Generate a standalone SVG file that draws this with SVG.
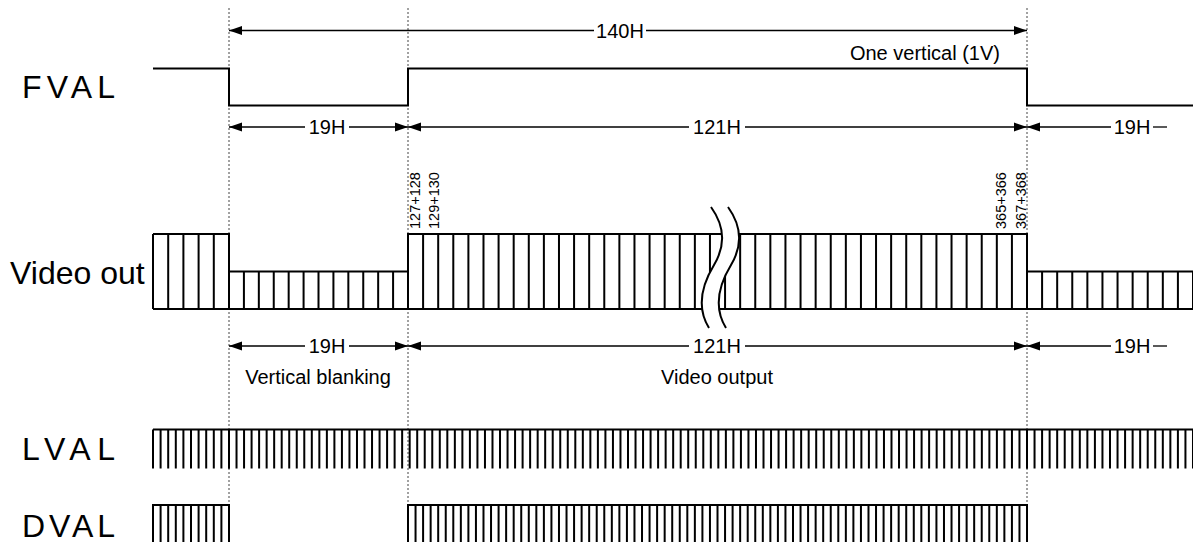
<svg xmlns="http://www.w3.org/2000/svg" width="1193" height="542" viewBox="0 0 1193 542">
<style>
.sig{fill:none;stroke:#000;stroke-width:2}
.dim{fill:none;stroke:#000;stroke-width:1.3}
.guide{fill:none;stroke:#444;stroke-width:1;stroke-dasharray:2 2}
.big{font-family:"Liberation Sans",Arial,sans-serif;font-size:32px;fill:#000}
.lbl{font-family:"Liberation Sans",Arial,sans-serif;font-size:20px;fill:#000}
.vlbl{font-family:"Liberation Sans",Arial,sans-serif;font-size:14.5px;fill:#000}
.mid{text-anchor:middle}
</style>
<defs>
<marker id="ah" markerUnits="userSpaceOnUse" markerWidth="14" markerHeight="10" refX="13" refY="4.5" orient="auto-start-reverse" viewBox="0 0 14 9">
<path d="M0,0 L13,4.5 L0,9 Z" fill="#000"/>
</marker>
</defs>
<rect width="1193" height="542" fill="#fff"/>

<g id="guides">
<line class="guide" x1="229" y1="8" x2="229" y2="542"/>
<line class="guide" x1="408" y1="8" x2="408" y2="542"/>
<line class="guide" x1="1027" y1="8" x2="1027" y2="542"/>
</g>

<g id="labels">
<text class="big" x="22" y="97.5" textLength="93" lengthAdjust="spacing">FVAL</text>
<text class="big" x="10" y="283.5">Video out</text>
<text class="big" x="22" y="459.5" textLength="93" lengthAdjust="spacing">LVAL</text>
<text class="big" x="22" y="536.5" textLength="93" lengthAdjust="spacing">DVAL</text>
</g>

<g id="fval">
<path class="sig" d="M153,68.5 H229 V105.5 H408 V68.5 H1027 V105.5 H1193"/>
</g>

<g id="video-out">
<path class="sig" d="M153,309 H1193 M153,234 H229 V309 M229,271.5 H408 M408,309 V234 H1027 V309 M1027,271.5 H1193 M153,234 V309"/>
<line x1="152" y1="271.5" x2="230" y2="271.5" stroke="#000" stroke-width="75" stroke-dasharray="2 13.2"/>
<line x1="228" y1="290.25" x2="410" y2="290.25" stroke="#000" stroke-width="37.5" stroke-dasharray="2 12.917"/>
<line x1="407" y1="271.5" x2="1028" y2="271.5" stroke="#000" stroke-width="75" stroke-dasharray="2 13.098"/>
<line x1="1026" y1="290.25" x2="1194" y2="290.25" stroke="#000" stroke-width="37.5" stroke-dasharray="2 13.091"/>
<path d="M711,207 C724,225 726,245 714,265 C700,288 698,310 709,328 L726,328 C715,310 717,288 731,265 C743,245 741,225 728,207 Z" fill="#fff"/>
<path class="sig" d="M711,207 C724,225 726,245 714,265 C700,288 698,310 709,328"/>
<path class="sig" d="M728,207 C741,225 743,245 731,265 C717,288 715,310 726,328"/>
<text class="vlbl" transform="translate(419.5,229) rotate(-90)">127+128</text>
<text class="vlbl" transform="translate(439,229) rotate(-90)">129+130</text>
<text class="vlbl" transform="translate(1006,229) rotate(-90)">365+366</text>
<text class="vlbl" transform="translate(1026,229) rotate(-90)">367+368</text>
</g>

<g id="lval">
<line class="sig" x1="153" y1="429.5" x2="1193" y2="429.5"/>
<line x1="152" y1="449" x2="230" y2="449" stroke="#000" stroke-width="39" stroke-dasharray="2 5.6"/>
<line x1="228" y1="449" x2="1028" y2="449" stroke="#000" stroke-width="39" stroke-dasharray="2 5.5283"/>
<line x1="1026" y1="449" x2="1194" y2="449" stroke="#000" stroke-width="39" stroke-dasharray="2 5.545"/>
</g>

<g id="dval">
<path class="sig" d="M153,505 H229 M408,505 H1027"/>
<line x1="152" y1="525" x2="230" y2="525" stroke="#000" stroke-width="42" stroke-dasharray="2 5.6"/>
<line x1="407" y1="525" x2="1028" y2="525" stroke="#000" stroke-width="42" stroke-dasharray="2 5.549"/>
</g>

<g id="connectors">
<line class="dim" x1="229" y1="30.5" x2="594" y2="30.5" marker-start="url(#ah)"/>
<line class="dim" x1="646" y1="30.5" x2="1027" y2="30.5" marker-end="url(#ah)"/>
<line class="dim" x1="229" y1="127" x2="305" y2="127" marker-start="url(#ah)"/>
<line class="dim" x1="349" y1="127" x2="408" y2="127" marker-end="url(#ah)"/>
<line class="dim" x1="408" y1="127" x2="689" y2="127" marker-start="url(#ah)"/>
<line class="dim" x1="745" y1="127" x2="1027" y2="127" marker-end="url(#ah)"/>
<line class="dim" x1="1027" y1="127" x2="1111" y2="127" marker-start="url(#ah)"/>
<line class="dim" x1="1153" y1="127" x2="1167" y2="127"/>
<line class="dim" x1="229" y1="346" x2="305" y2="346" marker-start="url(#ah)"/>
<line class="dim" x1="349" y1="346" x2="408" y2="346" marker-end="url(#ah)"/>
<line class="dim" x1="408" y1="346" x2="689" y2="346" marker-start="url(#ah)"/>
<line class="dim" x1="745" y1="346" x2="1027" y2="346" marker-end="url(#ah)"/>
<line class="dim" x1="1027" y1="346" x2="1111" y2="346" marker-start="url(#ah)"/>
<line class="dim" x1="1153" y1="346" x2="1167" y2="346"/>
</g>

<g id="dim-labels">
<text class="lbl mid" x="620" y="37.5">140H</text>
<text class="lbl" x="1000" y="60" text-anchor="end">One vertical (1V)</text>
<text class="lbl mid" x="327" y="134">19H</text>
<text class="lbl mid" x="717" y="134">121H</text>
<text class="lbl mid" x="1132" y="134">19H</text>
<text class="lbl mid" x="327" y="353">19H</text>
<text class="lbl mid" x="717" y="353">121H</text>
<text class="lbl mid" x="1132" y="353">19H</text>
<text class="lbl mid" x="318" y="384">Vertical blanking</text>
<text class="lbl mid" x="717" y="384">Video output</text>
</g>
</svg>
